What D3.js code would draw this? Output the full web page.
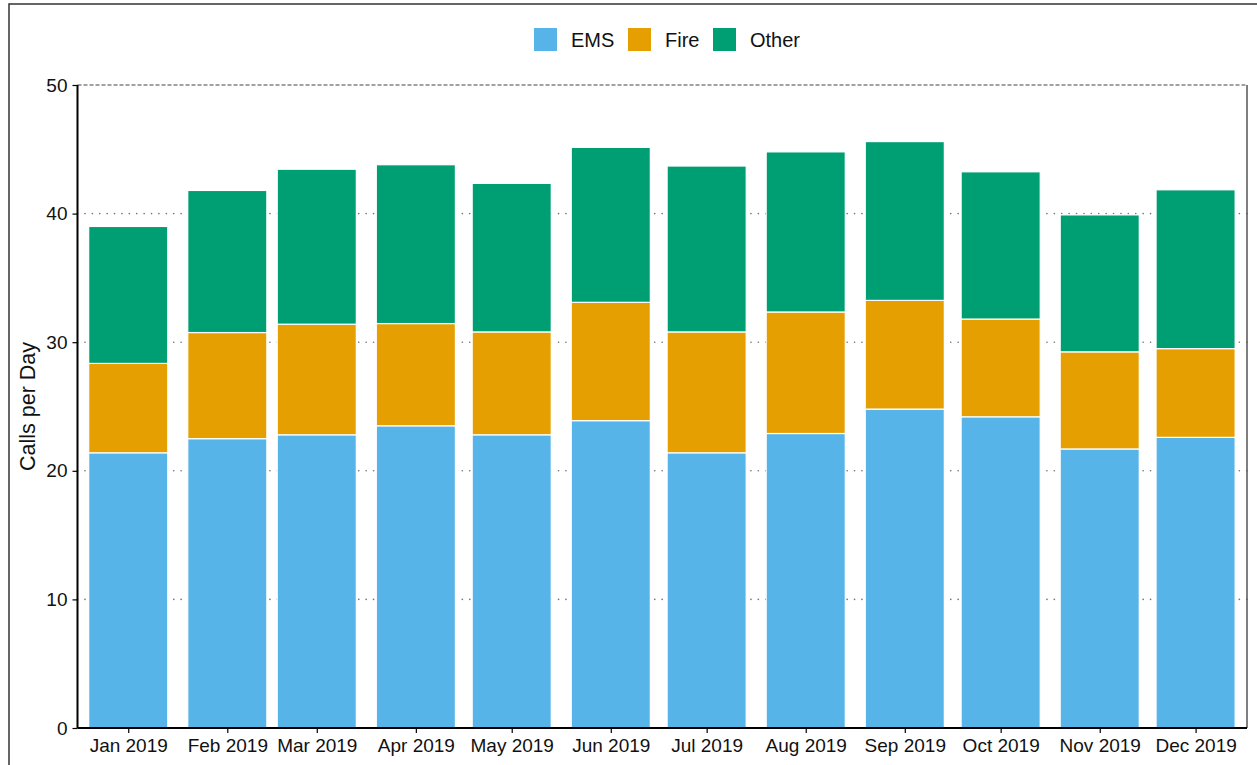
<!DOCTYPE html>
<html>
<head>
<meta charset="utf-8">
<script src="https://cdn.jsdelivr.net/npm/d3@7"></script>
<style>
  html, body { margin: 0; padding: 0; background: #fff; }
  svg { display: block; font-family: "Liberation Sans", Arial, sans-serif; }
</style>
</head>
<body>
<svg id="chart" width="1257" height="765"></svg>
<script>
const months = ["2019-01-01","2019-02-01","2019-03-01","2019-04-01","2019-05-01","2019-06-01",
                "2019-07-01","2019-08-01","2019-09-01","2019-10-01","2019-11-01","2019-12-01"];
const monthLabels = ["Jan 2019","Feb 2019","Mar 2019","Apr 2019","May 2019","Jun 2019",
                     "Jul 2019","Aug 2019","Sep 2019","Oct 2019","Nov 2019","Dec 2019"];
const seriesNames = ["EMS","Fire","Other"];
const emsValues   = [21.4, 22.5, 22.8, 23.5, 22.8, 23.9, 21.4, 22.9, 24.8, 24.2, 21.7, 22.6];
const fireValues  = [ 6.95, 8.25, 8.6, 7.95, 8.0, 9.2, 9.4, 9.45, 8.45, 7.6, 7.55, 6.9];
const otherValues = [10.65, 11.05, 12.05, 12.35, 11.55, 12.05, 12.9, 12.45, 12.35, 11.45, 10.65, 12.35];
const yTicks = [0, 10, 20, 30, 40, 50];
const colors = ["#56B4E9", "#E69F00", "#009E73"];

const svg = d3.select("#chart");
const plot = {left: 77.5, right: 1247, top: 85, bottom: 728};

const parse = d3.utcParse("%Y-%m-%d");
const dates = months.map(parse);
const rows = dates.map((d, i) => ({date: d, label: monthLabels[i], EMS: emsValues[i], Fire: fireValues[i], Other: otherValues[i]}));

const x = d3.scaleUtc()
  .domain([new Date(Date.UTC(2018, 11, 16, 3)), new Date(Date.UTC(2019, 11, 17, 2))])
  .range([plot.left, plot.right]);
const y = d3.scaleLinear().domain([0, 50]).range([plot.bottom, plot.top]);
const halfWidthDays = 12.375;
const dayMs = 86400000;

// outer frame
svg.append("path")
  .attr("d", `M9,765 L9,4 L1257,4`)
  .attr("fill", "none").attr("stroke", "#333").attr("stroke-width", 1.5);

// grid lines (dotted)
svg.append("g").selectAll("line")
  .data(yTicks.filter(t => t > 0 && t < 50))
  .join("line")
  .attr("x1", plot.left).attr("x2", plot.right)
  .attr("y1", d => y(d)).attr("y2", d => y(d))
  .attr("stroke", "#777").attr("stroke-width", 1.6)
  .attr("stroke-dasharray", "0.1,7.3").attr("stroke-linecap", "round");

// top dashed line at 50
svg.append("line")
  .attr("x1", plot.left).attr("x2", plot.right)
  .attr("y1", y(50)).attr("y2", y(50))
  .attr("stroke", "#444").attr("stroke-width", 1.2)
  .attr("stroke-dasharray", "4,2");
// right border
svg.append("line")
  .attr("x1", plot.right).attr("x2", plot.right)
  .attr("y1", y(50)).attr("y2", y(0))
  .attr("stroke", "#555").attr("stroke-width", 1.5);

// stacked bars
const stack = d3.stack().keys(seriesNames)(rows);
svg.append("g").selectAll("g")
  .data(stack)
  .join("g")
  .attr("fill", (d, i) => colors[i])
  .selectAll("rect")
  .data(d => d)
  .join("rect")
  .attr("x", d => x(new Date(+d.data.date - halfWidthDays * dayMs)))
  .attr("width", d => x(new Date(+d.data.date + halfWidthDays * dayMs)) - x(new Date(+d.data.date - halfWidthDays * dayMs)))
  .attr("y", d => y(d[1]))
  .attr("height", d => y(d[0]) - y(d[1]))
  .attr("stroke", "#fff").attr("stroke-width", 1.2);

// y axis
const yAxis = svg.append("g")
  .attr("transform", `translate(${plot.left},0)`)
  .call(d3.axisLeft(y).tickValues(yTicks).tickSize(5).tickPadding(5).tickFormat(d3.format("d")));
yAxis.select(".domain").attr("stroke", "#000").attr("stroke-width", 2).attr("d", `M0,${plot.bottom}V${plot.top}`);
yAxis.selectAll(".tick line").attr("stroke", "#000").attr("stroke-width", 1.2);
yAxis.selectAll(".tick text").attr("font-size", 19).attr("fill", "#111").attr("font-family", "Liberation Sans, Arial, sans-serif");

// x axis
const xAxis = svg.append("g")
  .attr("transform", `translate(0,${plot.bottom})`)
  .call(d3.axisBottom(x).tickValues(dates).tickSize(5).tickPadding(6).tickFormat((d, i) => monthLabels[i]));
xAxis.select(".domain").attr("stroke", "#000").attr("stroke-width", 2).attr("d", `M${plot.left},0H${plot.right}`);
xAxis.selectAll(".tick line").attr("stroke", "#000").attr("stroke-width", 1.2);
xAxis.selectAll(".tick text").attr("font-size", 19).attr("fill", "#111").attr("font-family", "Liberation Sans, Arial, sans-serif");

// y title
svg.append("text")
  .attr("transform", `translate(35,${(plot.top + plot.bottom) / 2}) rotate(-90)`)
  .attr("text-anchor", "middle")
  .attr("font-size", 21.5).attr("fill", "#111")
  .text("Calls per Day");

// legend
const legendX = [534, 628, 713];
const lg = svg.append("g").selectAll("g")
  .data(seriesNames)
  .join("g")
  .attr("transform", (d, i) => `translate(${legendX[i]},28)`);
lg.append("rect").attr("width", 23).attr("height", 23).attr("fill", (d, i) => colors[i]);
lg.append("text").attr("x", 37).attr("y", 18.5).attr("font-size", 20).attr("fill", "#111").text(d => d);
</script>
</body>
</html>
